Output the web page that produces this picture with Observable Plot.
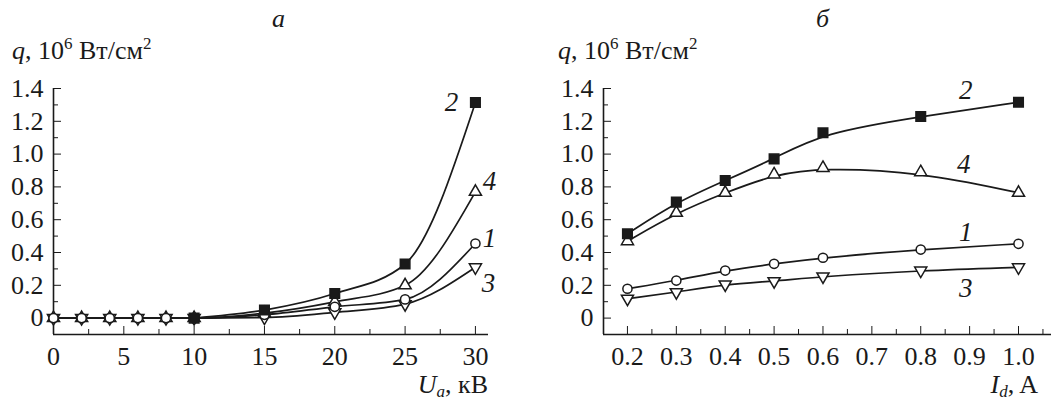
<!DOCTYPE html>
<html>
<head>
<meta charset="utf-8">
<script src="https://cdn.jsdelivr.net/npm/d3@7"></script>
<script src="https://cdn.jsdelivr.net/npm/@observablehq/plot@0.6"></script>
<style>
  html, body { margin: 0; padding: 0; background: #fff; }
  #wrap { position: relative; width: 1051px; height: 400px; overflow: hidden; font-family: "Liberation Serif", serif; color: #1a1a1a; }
  .lbl { position: absolute; font-size: 26px; line-height: 26px; white-space: nowrap; font-family: "Liberation Serif", serif; }
  .lbl sup { font-size: 17px; vertical-align: 10px; line-height: 0; }
  .lbl sub { font-size: 17px; vertical-align: -4px; line-height: 0; }
  .it { font-style: italic; }
  .panel { position: absolute; top: 0; }
</style>
</head>
<body>
<div id="wrap">
  <div class="lbl it" style="left:272px; top:6px;">a</div>
  <div class="lbl it" style="left:816px; top:6px;">б</div>
  <div class="lbl" style="left:12px; top:38px;"><span class="it">q</span>, 10<sup>6</sup> Вт/см<sup>2</sup></div>
  <div class="lbl" style="left:558px; top:38px;"><span class="it">q</span>, 10<sup>6</sup> Вт/см<sup>2</sup></div>
  <div class="lbl" style="right:563px; top:372px;"><span class="it">U<sub>a</sub></span>, кВ</div>
  <div class="lbl" style="right:13px; top:372px;"><span class="it">I<sub>d</sub></span>, A</div>
  <div id="left" class="panel" style="left:0px;"></div>
  <div id="right" class="panel" style="left:520px;"></div>
</div>
<script>
// ---------- data ----------
const seriesNames = ["1", "2", "3", "4"];
const drawOrder = ["3", "4", "1", "2"];

// panel a: q vs U_a (kV)
const U = [0, 2, 4, 6, 8, 10, 15, 20, 25, 30];
const qU1 = [0, 0, 0, 0, 0, 0, 0.02, 0.069, 0.114, 0.455];
const qU2 = [null, null, null, null, null, 0, 0.049, 0.15, 0.33, 1.315];
const qU3 = [0, 0, 0, 0, 0, 0, 0.003, 0.035, 0.085, 0.31];
const qU4 = [0, 0, 0, 0, 0, 0, 0.03, 0.099, 0.2, 0.77];

// panel б: q vs I_d (A)
const Id = [0.2, 0.3, 0.4, 0.5, 0.6, 0.8, 1.0];
const qI1 = [0.179, 0.229, 0.29, 0.331, 0.368, 0.418, 0.453];
const qI2 = [0.514, 0.707, 0.839, 0.971, 1.13, 1.229, 1.316];
const qI3 = [0.118, 0.158, 0.205, 0.225, 0.254, 0.29, 0.31];
const qI4 = [0.469, 0.642, 0.764, 0.876, 0.916, 0.89, 0.764];

// ticks
const uMajor = [0, 5, 10, 15, 20, 25, 30];
const uMinor = [2.5, 7.5, 12.5, 17.5, 22.5, 27.5];
const iMajor = [0.2, 0.3, 0.4, 0.5, 0.6, 0.7, 0.8, 0.9, 1.0];
const iMinor = [0.25, 0.35, 0.45, 0.55, 0.65, 0.75, 0.85, 0.95, 1.05];
const qMajor = [0, 0.2, 0.4, 0.6, 0.8, 1.0, 1.2, 1.4];
const qMinor = [0.1, 0.3, 0.5, 0.7, 0.9, 1.1, 1.3];

const uDomain = [0, 30.93];
const iDomain = [0.151, 1.0675];
const qDomain = [-0.1, 1.4];

// ---------- helpers ----------
const INK = "#1a1a1a";
const FONT = "'Liberation Serif', serif";
const symbolStyle = {
  "1": {symbol: "circle", fill: "white", r: 4.6, rotate: 0},
  "2": {symbol: "square", fill: INK, r: 5.4, rotate: 0},
  "3": {symbol: "triangle", fill: "white", r: 4.5, rotate: 180},
  "4": {symbol: "triangle", fill: "white", r: 4.5, rotate: 0}
};

function rows(xs, ys, name) {
  return xs.map((x, i) => ({x, y: ys[i], s: name}));
}

function axes(major, minor, fmt) {
  return [
    Plot.axisX(major, {tickSize: -8, fill: "none", stroke: INK, label: null}),
    Plot.axisX(minor, {tickSize: -5, fill: "none", stroke: INK, label: null}),
    Plot.axisX(major, {tickSize: 0, tickPadding: 12, stroke: "none", fill: INK, label: null, tickFormat: fmt, fontSize: 26, fontFamily: FONT}),
    Plot.axisY(qMajor, {tickSize: -8, fill: "none", stroke: INK, label: null}),
    Plot.axisY(qMinor, {tickSize: -5, fill: "none", stroke: INK, label: null}),
    Plot.axisY(qMajor, {tickSize: 0, tickPadding: 10, stroke: "none", fill: INK, label: null,
      tickFormat: d => d === 0 ? "0" : d.toFixed(1), fontSize: 26, fontFamily: FONT})
  ];
}

function seriesMarks(data, curve) {
  const marks = [];
  for (const name of seriesNames) {
    const d = data.filter(r => r.s === name && r.y != null);
    marks.push(Plot.line(d, {x: "x", y: "y", curve, stroke: INK, strokeWidth: 1.7}));
  }
  for (const name of drawOrder) {
    const d = data.filter(r => r.s === name && r.y != null);
    const st = symbolStyle[name];
    marks.push(Plot.dot(d, {x: "x", y: "y", symbol: st.symbol, r: st.r, fill: st.fill,
      stroke: INK, strokeWidth: 1.5, rotate: st.rotate}));
  }
  return marks;
}

function label(data, name, xAt, dx, dy) {
  return Plot.text(data.filter(r => r.s === name && r.x === xAt), {
    x: "x", y: "y", text: d => d.s, dx, dy,
    fontSize: 27, fontStyle: "italic", fill: INK, fontFamily: FONT
  });
}

// ---------- panel a ----------
const dataU = [
  ...rows(U, qU1, "1"), ...rows(U, qU2, "2"), ...rows(U, qU3, "3"), ...rows(U, qU4, "4")
];
const left = Plot.plot({
  width: 520, height: 400,
  marginTop: 88, marginBottom: 66, marginLeft: 53, marginRight: 32,
  x: {domain: uDomain}, y: {domain: qDomain},
  style: {fontFamily: FONT, fontSize: "26px", color: INK, background: "transparent", overflow: "visible"},
  marks: [
    ...axes(uMajor, uMinor, d => String(d)),
    Plot.ruleY([qDomain[0]], {stroke: INK, strokeWidth: 1.6}),
    Plot.ruleX([uDomain[0]], {stroke: INK, strokeWidth: 1.6}),
    ...seriesMarks(dataU, "monotone-x"),
    label(dataU, "2", 30, -24, 0),
    label(dataU, "4", 30, 14, -10),
    label(dataU, "1", 30, 14, -5),
    label(dataU, "3", 30, 13, 16)
  ]
});
document.getElementById("left").appendChild(left);

// ---------- panel б ----------
const dataI = [
  ...rows(Id, qI1, "1"), ...rows(Id, qI2, "2"), ...rows(Id, qI3, "3"), ...rows(Id, qI4, "4")
];
const right = Plot.plot({
  width: 531, height: 400,
  marginTop: 88, marginBottom: 66, marginLeft: 83, marginRight: 0,
  x: {domain: iDomain}, y: {domain: qDomain},
  style: {fontFamily: FONT, fontSize: "26px", color: INK, background: "transparent", overflow: "visible"},
  marks: [
    ...axes(iMajor, iMinor, d => d.toFixed(1)),
    Plot.ruleY([qDomain[0]], {stroke: INK, strokeWidth: 1.6}),
    Plot.ruleX([iDomain[0]], {stroke: INK, strokeWidth: 1.6}),
    ...seriesMarks(dataI, "basis"),
    label(dataI, "2", 0.8, 45, -26),
    label(dataI, "4", 0.8, 43, -8),
    label(dataI, "1", 0.8, 45, -17),
    label(dataI, "3", 0.8, 45, 18)
  ]
});
document.getElementById("right").appendChild(right);
</script>
</body>
</html>
